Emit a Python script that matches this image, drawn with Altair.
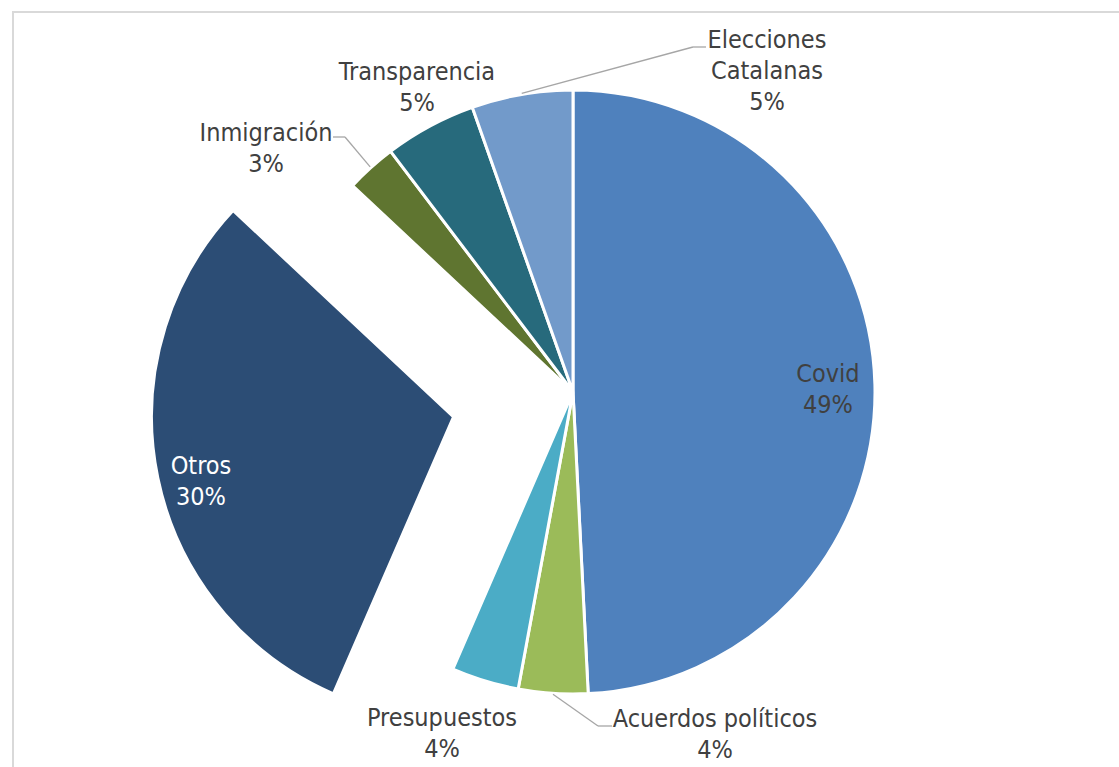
import math
import altair as alt
import pandas as pd

# ---------------- data ----------------
CATEGORIES = ["Covid", "Acuerdos políticos", "Presupuestos", "Otros",
              "Inmigración", "Transparencia", "Elecciones Catalanas"]
VALUES = [49.1, 3.7, 3.6, 30.4, 2.7, 4.9, 5.4]
PCT_LABELS = ["49%", "4%", "4%", "30%", "3%", "5%", "5%"]
LABEL_NAMES = ["Covid", "Acuerdos políticos", "Presupuestos", "Otros",
               "Inmigración", "Transparencia", "Elecciones\nCatalanas"]

# ---------------- styles / layout ----------------
COLORS = ["#4F81BD", "#9BBB59", "#4BACC6", "#2C4D75",
          "#5F7530", "#276A7C", "#729ACA"]
CX, CY, R = 573, 392, 302          # pie centre and radius (px)
EXPLODE = {"Otros": 122}            # slice pulled out (px)
# centre of each label's first line, relative to the pie centre
LABEL_OFFSET = {
    "Covid": (255, -18),
    "Acuerdos políticos": (142, 327),
    "Presupuestos": (-131, 326),
    "Otros": (-372, 74),
    "Inmigración": (-307, -259),
    "Transparencia": (-156, -320),
    "Elecciones Catalanas": (194, -352),
}
# leader lines: elbow and end relative to the pie centre
LEADERS = {
    "Elecciones Catalanas": ((120, -345), (133, -345)),
    "Inmigración": ((-228, -255), (-240, -255)),
    "Acuerdos políticos": ((25, 334), (39, 334)),
}
FONT = "DejaVu Sans Condensed, DejaVu Sans"
TEXT_GREY = "#404040"

TOTAL = sum(VALUES)

rows = []
for i, cat in enumerate(CATEGORIES):
    ldx, ldy = LABEL_OFFSET[cat]
    lead = LEADERS.get(cat)
    rows.append({
        "cat": cat,
        "value": VALUES[i],
        "order": i,
        "label": LABEL_NAMES[i] + "\n" + PCT_LABELS[i],
        "explode": EXPLODE.get(cat, 0),
        "ldx": ldx, "ldy": ldy,
        "has_leader": lead is not None,
        "ebx": lead[0][0] if lead else 0, "eby": lead[0][1] if lead else 0,
        "enx": lead[1][0] if lead else 0, "eny": lead[1][1] if lead else 0,
    })
df = pd.DataFrame(rows)

base = (
    alt.Chart(df)
    .transform_window(cum="sum(value)", sort=[alt.SortField("order")], frame=[None, 0])
    .transform_calculate(start="datum.cum - datum.value")
    .transform_calculate(mid=f"(datum.cum - datum.value / 2) / {TOTAL} * 2 * PI")
    .transform_calculate(
        cx=f"{CX} + datum.explode * sin(datum.mid)",
        cy=f"{CY} - datum.explode * cos(datum.mid)",
        lx=f"{CX} + datum.ldx",
        ly=f"{CY} + datum.ldy",
        sx=f"{CX} + {R + 1} * sin(datum.mid)",
        sy=f"{CY} - {R + 1} * cos(datum.mid)",
        ex=f"{CX} + datum.ebx",
        ey=f"{CY} + datum.eby",
        nx=f"{CX} + datum.enx",
        ny=f"{CY} + datum.eny",
    )
)

arcs = base.mark_arc(outerRadius=R, stroke="white", strokeWidth=3).encode(
    theta=alt.Theta("start:Q", stack=False,
                    scale=alt.Scale(domain=[0, TOTAL], range=[0, 2 * math.pi])),
    theta2="cum:Q",
    color=alt.Color("cat:N", scale=alt.Scale(domain=CATEGORIES, range=COLORS), legend=None),
    x=alt.X("cx:Q", scale=None),
    y=alt.Y("cy:Q", scale=None),
)

leader1 = base.transform_filter("datum.has_leader").mark_rule(
    color="#A6A6A6", strokeWidth=1.3).encode(
    x=alt.X("sx:Q", scale=None), y=alt.Y("sy:Q", scale=None),
    x2="ex:Q", y2="ey:Q")
leader2 = base.transform_filter("datum.has_leader").mark_rule(
    color="#A6A6A6", strokeWidth=1.3).encode(
    x=alt.X("ex:Q", scale=None), y=alt.Y("ey:Q", scale=None),
    x2="nx:Q", y2="ny:Q")

text_common = dict(font=FONT, fontSize=25, lineBreak="\n", lineHeight=31,
                   align="center", baseline="middle")
labels_grey = base.transform_filter("datum.cat != 'Otros'").mark_text(
    color=TEXT_GREY, **text_common).encode(
    x=alt.X("lx:Q", scale=None), y=alt.Y("ly:Q", scale=None), text="label:N")
labels_white = base.transform_filter("datum.cat == 'Otros'").mark_text(
    color="white", **text_common).encode(
    x=alt.X("lx:Q", scale=None), y=alt.Y("ly:Q", scale=None), text="label:N")

dummy = pd.DataFrame({"k": [0]})
border_left = alt.Chart(dummy).mark_rule(color="#D9D9D9", strokeWidth=2).encode(
    x=alt.value(13), y=alt.value(11), y2=alt.value(767))
border_top = alt.Chart(dummy).mark_rule(color="#D9D9D9", strokeWidth=2).encode(
    x=alt.value(12), x2=alt.value(1119), y=alt.value(12))

chart = (
    alt.layer(border_left, border_top, arcs, leader1, leader2, labels_grey, labels_white)
    .properties(width=1119, height=767, padding=0, autosize="none", background="white")
    .configure_view(stroke=None)
)

chart.save("out.html", embed_options={"renderer": "svg", "actions": False})
